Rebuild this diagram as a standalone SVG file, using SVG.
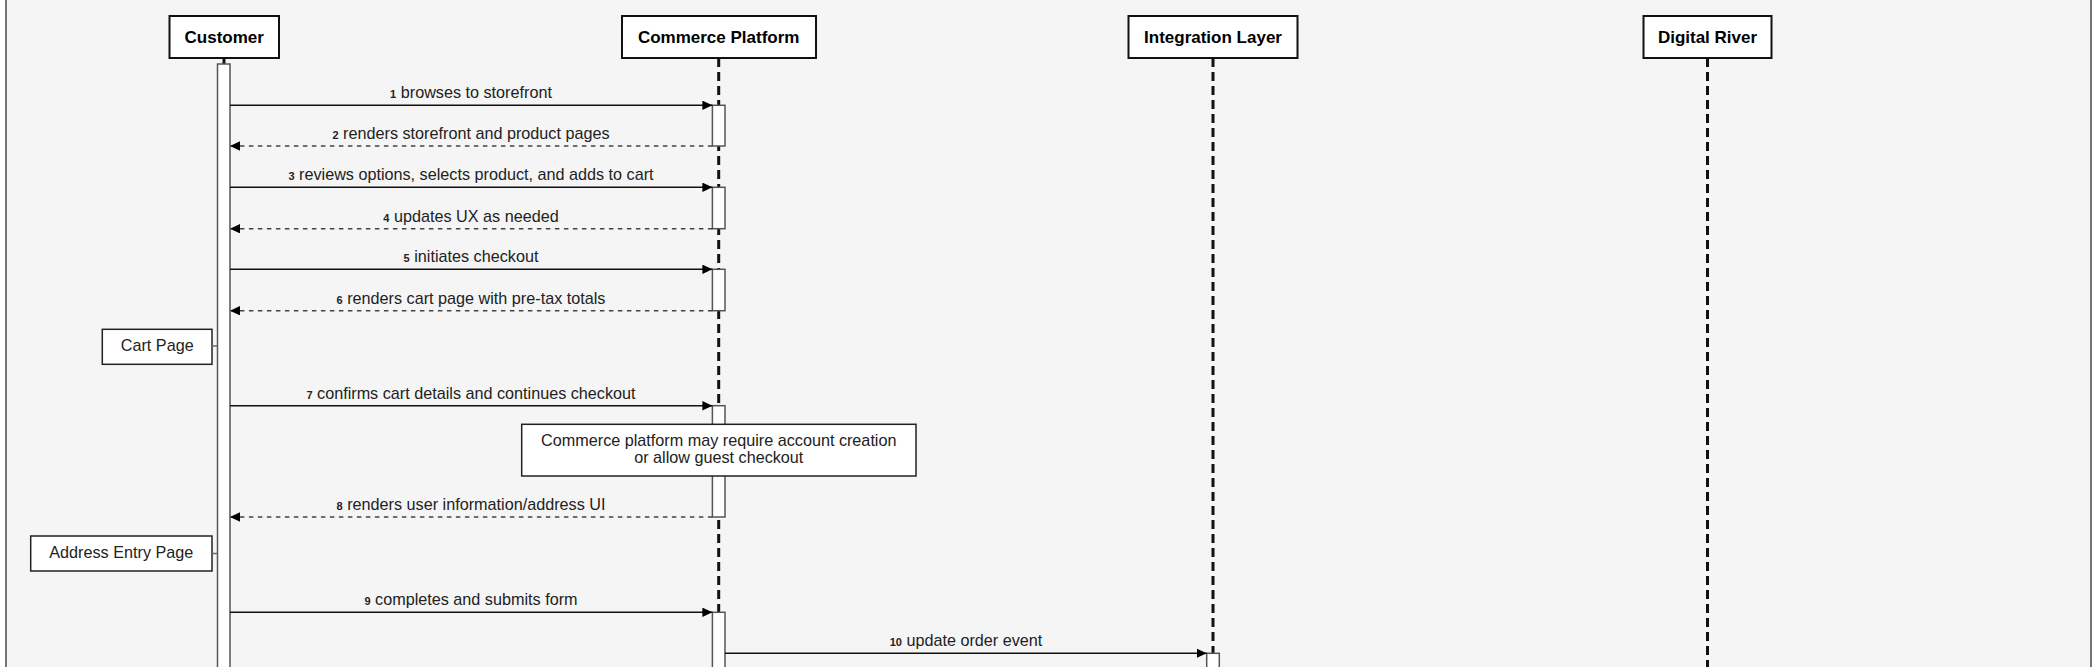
<svg xmlns="http://www.w3.org/2000/svg" width="2097" height="667" viewBox="0 0 2097 667">
<style>
  .lbl { font-family: "Liberation Sans", Arial, sans-serif; font-size: 16.2px; fill: #222; }
  .num { font-size: 11px; font-weight: bold; }
  .ptxt { font-family: "Liberation Sans", Arial, sans-serif; font-size: 17px; font-weight: bold; fill: #000; text-anchor: middle; }
  .pbox { fill: #fff; stroke: #111; stroke-width: 2; }
  .life { stroke: #111; stroke-width: 3; stroke-dasharray: 9 5; fill: none; }
  .act { fill: #fff; stroke: #555; stroke-width: 1.5; }
  .note { fill: #fff; stroke: #222; stroke-width: 1.5; }
  .msg { stroke: #111; stroke-width: 1.5; fill: none; }
  .ret { stroke: #444; stroke-width: 1.5; stroke-dasharray: 4.5 4.5; fill: none; }
  .tie { stroke: #666; stroke-width: 1.5; }
</style>
<defs>
  <marker id="ah" markerUnits="userSpaceOnUse" markerWidth="11" markerHeight="10" refX="10" refY="4.7" orient="auto">
    <path d="M0,0 L10,4.7 L0,9.4 Z" fill="#000"/>
  </marker>
</defs>
<rect x="0" y="0" width="2097" height="667" fill="#fff"/>
<rect id="frame" x="6" y="-5" width="2085" height="690" fill="#f5f5f5" stroke="#666" stroke-width="1.8"/>

<g id="lifelines">
  <line x1="224" y1="58" x2="224" y2="64" stroke="#111" stroke-width="3"/>
  <line class="life" x1="718.7" y1="58" x2="718.7" y2="680"/>
  <line class="life" x1="1213" y1="58" x2="1213" y2="680"/>
  <line class="life" x1="1707.5" y1="58" x2="1707.5" y2="680"/>
</g>

<g id="customer">
  <rect class="pbox" x="169.5" y="16" width="109.5" height="42"/>
  <text class="ptxt" x="224.2" y="43">Customer</text>
</g>
<g id="commerce-platform">
  <rect class="pbox" x="622" y="16" width="194" height="42"/>
  <text class="ptxt" x="718.7" y="43">Commerce Platform</text>
</g>
<g id="integration-layer">
  <rect class="pbox" x="1128.5" y="16" width="169" height="42"/>
  <text class="ptxt" x="1213" y="43">Integration Layer</text>
</g>
<g id="digital-river">
  <rect class="pbox" x="1643.5" y="16" width="128" height="42"/>
  <text class="ptxt" x="1707.5" y="43">Digital River</text>
</g>

<g id="activations">
  <rect class="act" x="217.5" y="64" width="12.5" height="620"/>
  <rect class="act" x="712.4" y="105.3" width="12.6" height="40.7"/>
  <rect class="act" x="712.4" y="187.3" width="12.6" height="41.4"/>
  <rect class="act" x="712.4" y="269.3" width="12.6" height="41.4"/>
  <rect class="act" x="712.4" y="405.7" width="12.6" height="111.3"/>
  <rect class="act" x="712.4" y="612.3" width="12.6" height="70"/>
  <rect class="act" x="1206.7" y="653.3" width="12.6" height="30"/>
</g>

<g id="note-account">
  <rect class="note" x="521.7" y="424.3" width="394.3" height="51.7"/>
  <text class="lbl" x="718.8" y="445.7" text-anchor="middle">Commerce platform may require account creation</text>
  <text class="lbl" x="718.8" y="462.7" text-anchor="middle">or allow guest checkout</text>
</g>

<g id="cart-page">
  <rect class="note" x="102.3" y="329.3" width="109.7" height="35"/>
  <text class="lbl" x="157.2" y="351" text-anchor="middle">Cart Page</text>
</g>
<g id="address-entry-page">
  <rect class="note" x="30.7" y="536" width="181.3" height="35"/>
  <text class="lbl" x="121.3" y="558" text-anchor="middle">Address Entry Page</text>
</g>

<g id="connectors">
  <line class="tie" x1="212" y1="346" x2="217.5" y2="346"/>
  <line class="tie" x1="212" y1="553.5" x2="217.5" y2="553.5"/>

  <line class="msg" x1="230" y1="105.3" x2="712.4" y2="105.3" marker-end="url(#ah)"/>
  <text class="lbl" x="471" y="98.3" text-anchor="middle"><tspan class="num">1</tspan> browses to storefront</text>

  <line class="ret" x1="712.4" y1="146" x2="230" y2="146" marker-end="url(#ah)"/>
  <text class="lbl" x="471" y="139" text-anchor="middle"><tspan class="num">2</tspan> renders storefront and product pages</text>

  <line class="msg" x1="230" y1="187.3" x2="712.4" y2="187.3" marker-end="url(#ah)"/>
  <text class="lbl" x="471" y="180.3" text-anchor="middle"><tspan class="num">3</tspan> reviews options, selects product, and adds to cart</text>

  <line class="ret" x1="712.4" y1="228.7" x2="230" y2="228.7" marker-end="url(#ah)"/>
  <text class="lbl" x="471" y="221.7" text-anchor="middle"><tspan class="num">4</tspan> updates UX as needed</text>

  <line class="msg" x1="230" y1="269.3" x2="712.4" y2="269.3" marker-end="url(#ah)"/>
  <text class="lbl" x="471" y="262.3" text-anchor="middle"><tspan class="num">5</tspan> initiates checkout</text>

  <line class="ret" x1="712.4" y1="310.7" x2="230" y2="310.7" marker-end="url(#ah)"/>
  <text class="lbl" x="471" y="303.7" text-anchor="middle"><tspan class="num">6</tspan> renders cart page with pre-tax totals</text>

  <line class="msg" x1="230" y1="405.7" x2="712.4" y2="405.7" marker-end="url(#ah)"/>
  <text class="lbl" x="471" y="398.7" text-anchor="middle"><tspan class="num">7</tspan> confirms cart details and continues checkout</text>

  <line class="ret" x1="712.4" y1="517" x2="230" y2="517" marker-end="url(#ah)"/>
  <text class="lbl" x="471" y="510" text-anchor="middle"><tspan class="num">8</tspan> renders user information/address UI</text>

  <line class="msg" x1="230" y1="612.3" x2="712.4" y2="612.3" marker-end="url(#ah)"/>
  <text class="lbl" x="471" y="605.3" text-anchor="middle"><tspan class="num">9</tspan> completes and submits form</text>

  <line class="msg" x1="725" y1="653.3" x2="1206.7" y2="653.3" marker-end="url(#ah)"/>
  <text class="lbl" x="966" y="646.3" text-anchor="middle"><tspan class="num">10</tspan> update order event</text>
</g>
</svg>
